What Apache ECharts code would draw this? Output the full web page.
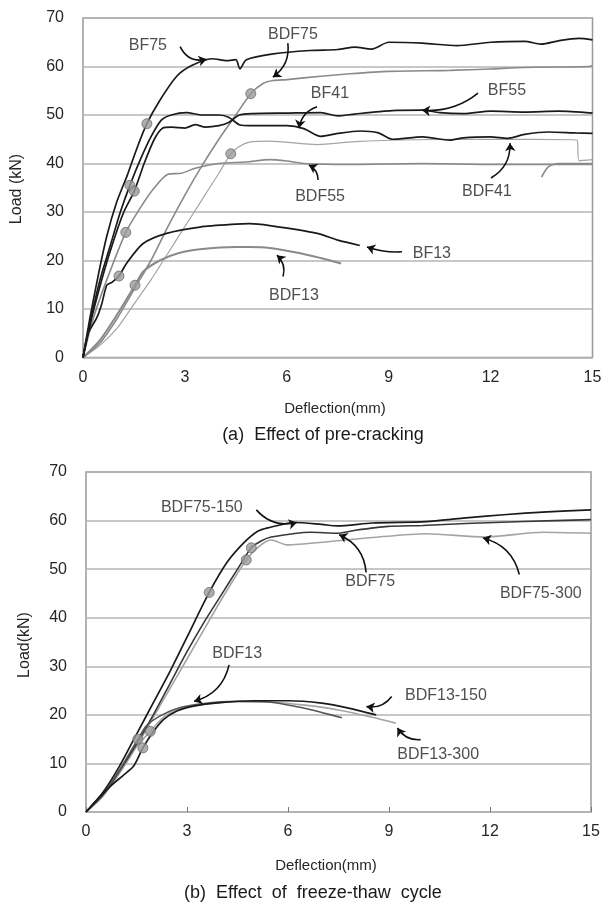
<!DOCTYPE html>
<html>
<head>
<meta charset="utf-8">
<script src="https://cdn.jsdelivr.net/npm/echarts@6/dist/echarts.min.js"></script>
<style>
  html, body { margin: 0; padding: 0; background: #fff; }
  #chart { width: 605px; height: 907px; }
</style>
</head>
<body>
<div id="chart"></div>
<script>
// axis ranges (both panels)
const xMax = 15, xStep = 3;
const yMax = 70, yStep = 10;

// ---- (a) pre-cracking : [deflection mm, load kN]
const bf75 = [[0,0],[0.2,8],[0.45,17],[0.7,25],[0.99,32],[1.3,37.5],[1.58,43],[1.88,48.2],[2.26,53],[2.76,58],[3.2,60.2],[3.8,61.6],[4.23,61.2],[4.5,61.4],[4.62,59.5],[4.81,61.4],[5.6,62.6],[6.68,63.3],[7.5,63.5],[8,64],[8.5,63.6],[9,65],[10,64.8],[11,64.3],[12,65],[13,65.2],[13.5,64.6],[14,65.3],[14.6,65.8],[15,65.5]];
const bf41 = [[0,0],[0.2,7],[0.5,16],[0.8,23],[1.1,30],[1.38,35.5],[1.7,41],[2.0,45.5],[2.3,48.9],[2.6,50],[3.05,50.5],[3.5,50],[4.0,50],[4.3,49.5],[4.6,48],[5,47.8],[6,47.8],[6.5,47.2],[7,45.6],[7.5,46.2],[8.15,46.7],[8.7,46.3],[9.1,45],[10,45.5],[10.8,44.8],[11.2,45.3],[12,45.5],[12.5,45.2],[13,46],[13.7,46.5],[14.5,46.3],[15,46.2]];
const bf55 = [[0,0],[0.25,8],[0.55,16],[0.85,23],[1.2,30],[1.51,34.3],[1.8,40],[2.1,45],[2.35,47.3],[2.6,47.5],[3,47.3],[3.3,48],[3.6,47.5],[4.0,47.8],[4.3,48.5],[4.6,50],[5,50.3],[6,50.4],[7,50.5],[7.5,49.8],[8,50.2],[9.1,50.9],[10,51],[10.5,50.5],[11.2,50.3],[12,50.8],[13,50.6],[14,50.8],[15,50.4]];
const bf13 = [[0,0],[0.15,5],[0.4,8.1],[0.55,11],[0.7,14.9],[0.85,15.5],[1.06,16.8],[1.28,19.4],[1.77,23.5],[2.46,25.6],[3.44,26.9],[4.5,27.5],[4.9,27.6],[5.5,27.2],[6.9,25.6],[7.5,24.2],[8.15,23.1]];
const bdf75a = [[0,0],[0.5,3],[1,8],[1.5,14],[2,20],[2.5,27],[3,33.5],[3.5,39.5],[4,45],[4.5,50],[4.94,54.4],[5.3,56.5],[5.6,57.1],[6,57.3],[7,58],[7.85,58.5],[9,59],[10.8,59.2],[12,59.5],[13,59.8],[14.9,60],[15,60.2]];
const bdf41 = [[0,0],[0.5,2.5],[1,6],[1.5,11],[2,16],[2.5,21.5],[3,27],[3.5,32.5],[4,38],[4.35,42],[4.6,43.5],[4.9,44.4],[5.5,44.6],[6.9,43.9],[8,44.5],[9.8,44.9],[12,45],[14.4,44.9],[14.55,44.8],[14.6,40.6],[15,40.8]];
const bdf41tail = [[13.5,37.2],[13.7,39.3],[14,40],[15,40]];
const bdf55 = [[0,0],[0.3,8],[0.7,16],[1.26,25.8],[1.7,31],[2.1,35],[2.5,37.8],[2.9,38],[3.3,39],[4,40],[4.8,40.3],[5.5,40.8],[6,40.5],[6.5,40],[7.85,39.8],[10,40],[12,39.8],[15,39.8]];
const bdf13a = [[0,0],[0.5,3.6],[0.99,8.7],[1.53,14.9],[1.77,17.7],[2.26,20],[2.8,21.5],[3.44,22.3],[4.5,22.8],[4.9,22.8],[5.5,22.6],[6.4,21.5],[7,20.5],[7.6,19.4]];
const markersA = [[1.88,48.2],[1.38,35.5],[1.51,34.3],[1.26,25.8],[1.06,16.8],[1.53,14.9],[4.94,54.4],[4.35,42]];
const labelsA = [['BF75',1.91,64.3],['BDF75',6.18,66.5],['BF41',7.27,54.5],['BF55',12.48,55.0],['BDF55',6.98,33.2],['BDF41',11.89,34.2],['BF13',10.27,21.5],['BDF13',6.21,12.7]];
const arrowsA = [[[2.86,64.1],[3.64,61.5]],[[6.03,64.8],[5.59,57.8]],[[6.89,51.7],[6.36,47.3]],[[11.63,54.5],[9.98,51.0]],[[6.92,36.6],[6.65,39.7]],[[12.01,37.0],[12.57,44.2]],[[9.39,21.8],[8.36,22.8]],[[5.89,16.7],[5.71,21.1]]];
const bendsA = [-0.4, 0.3, -0.3, 0.2, -0.3, -0.3, 0.1, -0.3];

// ---- (b) freeze-thaw
const bdf75_150 = [[0,0],[0.5,4],[1,9.5],[1.5,16],[2,22.5],[2.5,29],[3,36],[3.66,45.2],[4.2,51.5],[4.7,55.5],[5.1,57.8],[5.4,58.5],[6.2,59.6],[7,59.2],[7.47,58.9],[8.5,59.5],[10.1,59.8],[11.2,60.5],[12.4,61.2],[13.7,61.8],[15,62.2]];
const bdf75b = [[0,0],[0.5,3.5],[1,8.5],[1.5,14],[2,20],[2.5,26.5],[3,33],[3.5,39],[4,44.5],[4.5,50],[4.91,54.4],[5.2,55.8],[5.5,56.6],[6.66,57.6],[7.47,57.4],[8,58],[8.97,58.8],[10,59],[11.27,59.4],[13,59.8],[15,60.2]];
const bdf75_300 = [[0,0],[0.5,3.2],[1,8],[1.5,13.5],[2,19.5],[2.5,25.5],[3,31.5],[3.5,37.5],[4,43.5],[4.76,51.9],[5.2,55],[5.5,56],[5.97,55],[7.24,55.7],[8.5,56.5],[10.1,57.3],[11.85,56.6],[13.57,57.6],[15,57.4]];
const bdf13b = [[0,0],[0.5,3.6],[1,8.7],[1.54,15],[1.8,17.8],[2.26,20],[2.8,21.5],[3.44,22.3],[4.5,22.8],[5.5,22.6],[6.4,21.5],[7,20.5],[7.6,19.4]];
const bdf13_150 = [[0,0],[0.4,3],[0.72,5.3],[1.1,7.5],[1.41,9.4],[1.69,13.2],[2.0,16.5],[2.3,19],[2.7,20.8],[3.2,21.8],[4,22.5],[5,22.9],[6,22.9],[7,22.4],[7.8,21.4],[8.62,20]];
const bdf13_300 = [[0,0],[0.5,3.8],[1,8.5],[1.5,13.5],[1.91,16.6],[2.3,19.5],[2.8,21.2],[3.5,22.2],[4.5,22.7],[5.5,22.6],[6.5,22],[7.5,21],[8.5,19.5],[9.2,18.3]];
const markersB = [[3.66,45.2],[4.76,51.9],[4.91,54.4],[1.54,15],[1.69,13.2],[1.91,16.6]];
const labelsB = [['BDF75-150',3.44,62.6],['BDF75',8.44,47.5],['BDF75-300',13.51,44.9],['BDF13',4.49,32.6],['BDF13-150',10.69,23.9],['BDF13-300',10.46,11.8]];
const arrowsB = [[[5.06,62.2],[6.26,59.6]],[[8.32,49.3],[7.52,57.1]],[[12.87,48.9],[11.79,56.4]],[[4.25,30.3],[3.21,22.8]],[[9.08,23.8],[8.33,21.7]],[[9.94,14.9],[9.25,17.3]]];
const bendsB = [-0.3, -0.3, -0.3, 0.3, 0.3, 0.3];

const FONT = '"Liberation Sans", Arial, sans-serif';
const DARK = '#1a1a1a', GREY = '#8a8a8a', LIGHT = '#a4a4a4';

const myChart = echarts.init(document.getElementById('chart'));

function curve(data, color, width, g) {
  return { type: 'line', xAxisIndex: g, yAxisIndex: g, data: data, showSymbol: false, symbol: 'none',
    smooth: 0.25, lineStyle: { color: color, width: width }, silent: true, z: 3 };
}
function dots(data, g) {
  return { type: 'scatter', xAxisIndex: g, yAxisIndex: g, data: data, symbolSize: 10, z: 5,
    itemStyle: { color: '#9a9a9a', borderColor: '#6e6e6e', borderWidth: 1 } };
}
function names(list, g) {
  return { type: 'scatter', xAxisIndex: g, yAxisIndex: g, symbolSize: 0, z: 6,
    data: list.map(function (l) { return { name: l[0], value: [l[1], l[2]] }; }),
    label: { show: true, position: 'inside', formatter: '{b}', color: '#222', fontSize: 16, fontFamily: FONT } };
}
function arrows(list, bends, g) {
  return { type: 'lines', coordinateSystem: 'cartesian2d', xAxisIndex: g, yAxisIndex: g, z: 6,
    symbol: ['none', 'arrow'], symbolSize: 8,
    lineStyle: { color: '#111', width: 1.6, opacity: 1 },
    data: list.map(function (a, i) { return { coords: a, lineStyle: { curveness: bends[i] } }; }) };
}
function xAx(g) {
  return { type: 'value', gridIndex: g, min: 0, max: xMax, interval: xStep,
    axisLine: { show: false }, splitLine: { show: false },
    axisTick: { show: g === 1, inside: true, length: 5, lineStyle: { color: '#777' } },
    axisLabel: { color: '#262626', fontSize: 16, fontFamily: FONT, margin: 12 } };
}
function yAx(g) {
  return { type: 'value', gridIndex: g, min: 0, max: yMax, interval: yStep,
    axisLine: { show: false }, axisTick: { show: false },
    splitLine: { lineStyle: { color: '#b4b4b4', width: 1.5 } },
    axisLabel: { color: '#262626', fontSize: 16, fontFamily: FONT, margin: 19 } };
}

const options = {
  animation: false,
  backgroundColor: '#fff',
  grid: [
    { left: 83, top: 18, width: 509.5, height: 339.5, show: true, borderColor: '#999', borderWidth: 1.5 },
    { left: 86, top: 472, width: 505, height: 340, show: true, borderColor: '#999', borderWidth: 1.5 }
  ],
  xAxis: [xAx(0), xAx(1)],
  yAxis: [yAx(0), yAx(1)],
  graphic: [
    { type: 'text', x: 335, y: 409, style: { text: 'Deflection(mm)', font: '15px ' + FONT, fill: '#262626', align: 'center', verticalAlign: 'middle' } },
    { type: 'text', x: 323, y: 435, style: { text: '(a)  Effect of pre-cracking', font: '18px ' + FONT, fill: '#1a1a1a', align: 'center', verticalAlign: 'middle' } },
    { type: 'text', x: 326, y: 866, style: { text: 'Deflection(mm)', font: '15px ' + FONT, fill: '#262626', align: 'center', verticalAlign: 'middle' } },
    { type: 'text', x: 313, y: 893, style: { text: '(b)  Effect  of  freeze-thaw  cycle', font: '18px ' + FONT, fill: '#1a1a1a', align: 'center', verticalAlign: 'middle' } },
    { type: 'text', x: 17, y: 189, rotation: Math.PI / 2, style: { text: 'Load (kN)', font: '16px ' + FONT, fill: '#262626', align: 'center', verticalAlign: 'middle' } },
    { type: 'text', x: 25, y: 645, rotation: Math.PI / 2, style: { text: 'Load(kN)', font: '16px ' + FONT, fill: '#262626', align: 'center', verticalAlign: 'middle' } }
  ],
  series: [
    curve(bdf41, LIGHT, 1.2, 0),
    curve(bdf41tail, GREY, 1.6, 0),
    curve(bdf55, GREY, 1.6, 0),
    curve(bdf75a, GREY, 1.6, 0),
    curve(bdf13a, GREY, 2, 0),
    curve(bf75, DARK, 1.7, 0),
    curve(bf41, DARK, 1.7, 0),
    curve(bf55, DARK, 1.7, 0),
    curve(bf13, DARK, 1.7, 0),
    dots(markersA, 0),
    names(labelsA, 0),
    arrows(arrowsA, bendsA, 0),

    curve(bdf75_300, LIGHT, 1.6, 1),
    curve(bdf13_300, LIGHT, 1.6, 1),
    curve(bdf75b, '#383838', 1.6, 1),
    curve(bdf75_150, DARK, 1.7, 1),
    curve(bdf13b, '#555', 1.6, 1),
    curve(bdf13_150, DARK, 1.7, 1),
    dots(markersB, 1),
    names(labelsB, 1),
    arrows(arrowsB, bendsB, 1)
  ]
};

myChart.setOption(options);
</script>
</body>
</html>
